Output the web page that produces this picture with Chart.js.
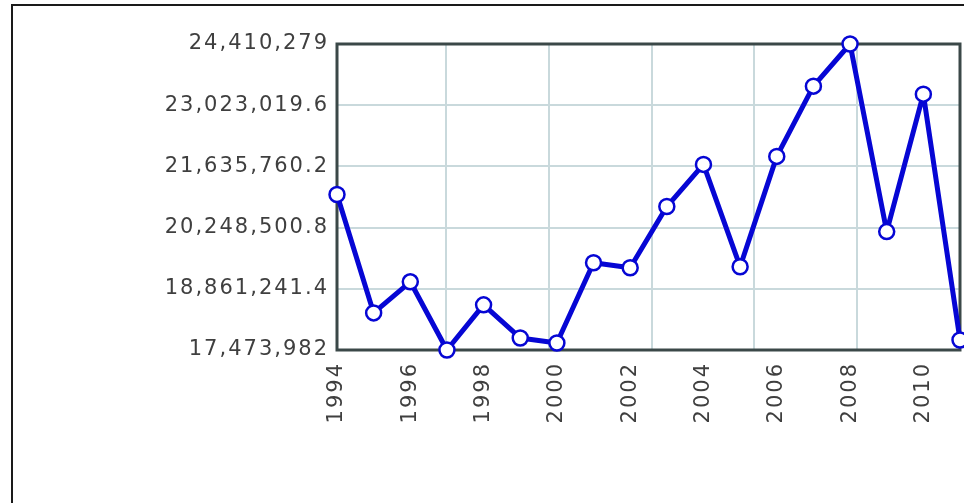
<!DOCTYPE html>
<html>
<head>
<meta charset="utf-8">
<script src="https://cdn.jsdelivr.net/npm/chart.js@4.4.1/dist/chart.umd.min.js"></script>
<style>
  html, body { margin: 0; padding: 0; background: #fff; overflow: hidden; }
  #wrap { position: relative; width: 964px; height: 503px; overflow: hidden; }
  #box {
    position: absolute; left: 11px; top: 4px; width: 1000px; height: 600px;
    border: 2px solid #1a1a1a; box-sizing: border-box;
  }
  canvas { position: absolute; left: 0; top: 0; }
</style>
</head>
<body>
<div id="wrap">
  <div id="box"></div>
  <canvas id="trendChart" width="970" height="503"></canvas>
</div>
<script>
const years = [1994, 1995, 1996, 1997, 1998, 1999, 2000, 2001, 2002,
  2003, 2004, 2005, 2006, 2007, 2008, 2009, 2010, 2011];
const values = [20999000, 18315000, 19020000, 17473982, 18497000, 17747000,
  17633000, 19452000, 19339000, 20726000, 21681000, 19362000, 21863000,
  23455000, 24410279, 20158000, 23273000, 17701000];
const yearTicks = [1994, 1996, 1998, 2000, 2002, 2004, 2006, 2008, 2010];
const valueTicks = [17473982, 18861241.4, 20248500.8, 21635760.2, 23023019.6, 24410279];

const lineColor = '#0606d4';
const frameColor = '#3b4848';
const gridColor = '#c9d9dc';
const labelColor = '#3f3f3f';
const labelFont = { family: 'DejaVu Sans', size: 21 };

// dark frame round the plot, under the line and markers
const plotFrame = {
  id: 'plotFrame',
  beforeDraw(chart) {
    chart.ctx.letterSpacing = '2px';
  },
  beforeDatasetsDraw(chart) {
    const { ctx, chartArea: a } = chart;
    ctx.save();
    ctx.strokeStyle = frameColor;
    ctx.lineWidth = 3;
    ctx.strokeRect(a.left, a.top, a.right - a.left, a.bottom - a.top);
    ctx.restore();
  },
};

const canvas = document.getElementById('trendChart');
new Chart(canvas.getContext('2d'), {
  type: 'line',
  data: {
    datasets: [
      {
        data: years.map((y, i) => ({ x: y, y: values[i] })),
        borderColor: lineColor,
        borderWidth: 5,
        borderJoinStyle: 'round',
        borderCapStyle: 'round',
        pointRadius: 7.5,
        pointBorderWidth: 2.5,
        pointBackgroundColor: '#fff',
        pointBorderColor: lineColor,
        tension: 0,
        clip: false,
      },
    ],
  },
  options: {
    responsive: false,
    animation: false,
    events: [],
    layout: { padding: { top: 44, right: 0, left: 0, bottom: 0 } },
    plugins: {
      legend: { display: false },
      tooltip: { enabled: false },
    },
    scales: {
      x: {
        type: 'linear',
        min: 1994,
        max: 2011,
        grid: { display: false },
        border: { display: false },
        afterBuildTicks: (scale) => {
          scale.ticks = yearTicks.map((v) => ({ value: v }));
        },
        afterFit: (scale) => {
          scale.height = 153;
          scale.paddingLeft = 0;
          scale.paddingRight = 0;
        },
        ticks: {
          autoSkip: false,
          minRotation: 90,
          maxRotation: 90,
          padding: 4,
          color: labelColor,
          font: labelFont,
          callback: (v) => String(v),
        },
      },
      xg: {
        type: 'linear',
        position: 'top',
        min: -0.06,
        max: 6,
        ticks: { display: false, stepSize: 1 },
        grid: { color: gridColor, lineWidth: 2, drawTicks: false },
        border: { display: false },
        afterFit: (scale) => {
          scale.height = 0;
        },
      },
      y: {
        min: valueTicks[0],
        max: valueTicks[valueTicks.length - 1],
        grid: { color: gridColor, lineWidth: 2, drawTicks: false },
        border: { display: false },
        afterBuildTicks: (scale) => {
          scale.ticks = valueTicks.map((v) => ({ value: v }));
        },
        afterFit: (scale) => {
          scale.width = 337;
          scale.paddingTop = 0;
          scale.paddingBottom = 0;
        },
        ticks: {
          padding: 8,
          color: labelColor,
          font: labelFont,
          callback: (v) => v.toLocaleString('en-US', { maximumFractionDigits: 1 }),
        },
      },
    },
  },
  plugins: [plotFrame],
});
</script>
</body>
</html>
